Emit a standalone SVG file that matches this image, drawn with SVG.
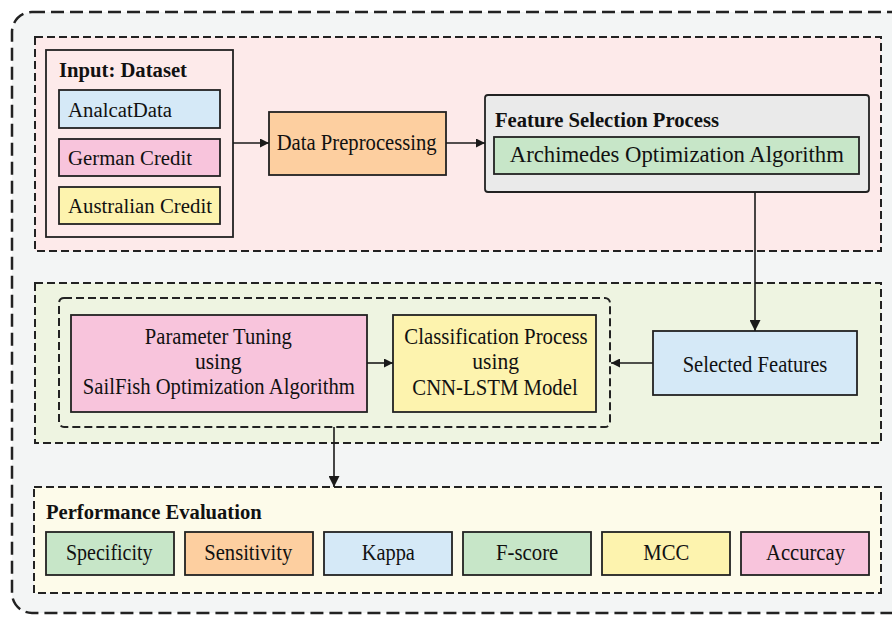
<svg xmlns="http://www.w3.org/2000/svg" width="892" height="617" viewBox="0 0 892 617">
<defs>
<marker id="arr" viewBox="0 0 10 10" refX="10" refY="5" markerWidth="9" markerHeight="9" markerUnits="userSpaceOnUse" orient="auto"><path d="M0,0 L10,5 L0,10 z" fill="#1a1a1a"/></marker>
<marker id="arrL" viewBox="0 0 10 10" refX="10" refY="5" markerWidth="11" markerHeight="11" markerUnits="userSpaceOnUse" orient="auto"><path d="M0,0 L10,5 L0,10 z" fill="#1a1a1a"/></marker>
</defs>
<style>
text{font-family:"Liberation Serif","Times New Roman",serif;fill:#111;}
.t{font-size:22.5px;}
.s{font-size:20.5px;}
.c{text-anchor:middle;}
.b{font-weight:bold;font-size:20.5px;}
.box{stroke:#222;stroke-width:1.8;}
.sec{stroke:#222;stroke-width:2;stroke-dasharray:8 4;}
.con{stroke:#1a1a1a;stroke-width:1.6;fill:none;}
</style>
<rect x="0" y="0" width="892" height="617" fill="#ffffff"/>
<rect x="12" y="12" width="900" height="601" rx="20" fill="#f3f5f5" stroke="#222" stroke-width="2.5" stroke-dasharray="13 6"/>
<g id="sec-top"><rect class="sec" x="35" y="37" width="846" height="214" fill="#fdeaea"/></g>
<g id="sec-mid"><rect class="sec" x="35" y="283" width="846" height="160" fill="#eef4e1"/></g>
<g id="sec-bot"><rect class="sec" x="34" y="487" width="847" height="106" fill="#fdfbea"/>
<text class="b" x="46" y="519" textLength="215.7" lengthAdjust="spacingAndGlyphs">Performance Evaluation</text></g>
<g id="input"><rect class="box" x="46" y="50" width="187" height="187" fill="#fdeaea"/>
<text class="b" x="59" y="77" style="font-size:20px" textLength="128" lengthAdjust="spacingAndGlyphs">Input: Dataset</text></g>
<g id="analcat"><rect class="box" x="59" y="90" width="161" height="38" fill="#d5e9f7"/><text class="s" x="68" y="117" textLength="104" lengthAdjust="spacingAndGlyphs">AnalcatData</text></g>
<g id="german"><rect class="box" x="59" y="139" width="161" height="37" fill="#f8c4dc"/><text class="s" x="68" y="165" textLength="124" lengthAdjust="spacingAndGlyphs">German Credit</text></g>
<g id="australian"><rect class="box" x="59" y="187" width="161" height="37" fill="#fdf3ae"/><text class="s" x="68" y="213" textLength="144" lengthAdjust="spacingAndGlyphs">Australian Credit</text></g>
<g id="preproc"><rect class="box" x="269" y="112" width="177" height="63" fill="#fdcfa0"/><text class="t c" x="356.7" y="150" style="font-size:23px" textLength="160" lengthAdjust="spacingAndGlyphs">Data Preprocessing</text></g>
<g id="feature"><rect class="box" x="485" y="95" width="384" height="97" rx="3" fill="#eaeaea"/>
<text class="b" x="495" y="127" style="font-size:21px" textLength="224" lengthAdjust="spacingAndGlyphs">Feature Selection Process</text></g>
<g id="aoa"><rect class="box" x="494" y="137" width="365" height="37" fill="#c7e6c8"/><text class="t c" x="676.8" y="162.3" style="font-size:23.5px" textLength="334" lengthAdjust="spacingAndGlyphs">Archimedes Optimization Algorithm</text></g>
<g id="model-group"><rect class="sec" x="59" y="298" width="551" height="129" rx="5" fill="none"/></g>
<g id="param"><rect class="box" x="71" y="315" width="296" height="97" fill="#f8c4dc"/>
<text class="t c" x="218.3" y="344" textLength="147" lengthAdjust="spacingAndGlyphs">Parameter Tuning</text>
<text class="t c" x="218.3" y="369" textLength="46.7" lengthAdjust="spacingAndGlyphs">using</text>
<text class="t c" x="218.8" y="394" textLength="272" lengthAdjust="spacingAndGlyphs">SailFish Optimization Algorithm</text></g>
<g id="classif"><rect class="box" x="393" y="315" width="203" height="97" fill="#fdf3ae"/>
<text class="t c" x="496" y="344" textLength="183.4" lengthAdjust="spacingAndGlyphs">Classification Process</text>
<text class="t c" x="495.7" y="369" textLength="46.7" lengthAdjust="spacingAndGlyphs">using</text>
<text class="t c" x="495" y="394.5" textLength="165.4" lengthAdjust="spacingAndGlyphs">CNN-LSTM Model</text></g>
<g id="selected"><rect class="box" x="653" y="331" width="204" height="64" fill="#d5e9f7"/><text class="t c" x="755" y="371.5" style="font-size:23px" textLength="144.7" lengthAdjust="spacingAndGlyphs">Selected Features</text></g>
<g id="m-spec"><rect class="box" x="46" y="532" width="128" height="43" fill="#c7e6c8"/><text class="t c" x="109.3" y="560" textLength="86.7" lengthAdjust="spacingAndGlyphs">Specificity</text></g>
<g id="m-sens"><rect class="box" x="185" y="532" width="128" height="43" fill="#fdcfa0"/><text class="t c" x="248.3" y="560" textLength="88" lengthAdjust="spacingAndGlyphs">Sensitivity</text></g>
<g id="m-kappa"><rect class="box" x="324" y="532" width="128" height="43" fill="#d5e9f7"/><text class="t c" x="388.3" y="560" textLength="53.3" lengthAdjust="spacingAndGlyphs">Kappa</text></g>
<g id="m-fscore"><rect class="box" x="463" y="532" width="128" height="43" fill="#c7e6c8"/><text class="t c" x="527.2" y="560" textLength="62.3" lengthAdjust="spacingAndGlyphs">F-score</text></g>
<g id="m-mcc"><rect class="box" x="602" y="532" width="128" height="43" fill="#fdf3ae"/><text class="t c" x="666.3" y="560" textLength="46" lengthAdjust="spacingAndGlyphs">MCC</text></g>
<g id="m-acc"><rect class="box" x="741" y="532" width="128" height="43" fill="#f8c4dc"/><text class="t c" x="805.5" y="560" textLength="79" lengthAdjust="spacingAndGlyphs">Accurcay</text></g>
<g id="connectors">
<line class="con" x1="233" y1="143" x2="269" y2="143" marker-end="url(#arr)"/>
<line class="con" x1="446" y1="143" x2="485" y2="143" marker-end="url(#arr)"/>
<line class="con" x1="755" y1="192" x2="755" y2="331" marker-end="url(#arrL)"/>
<line class="con" x1="653" y1="363" x2="611" y2="363" marker-end="url(#arr)"/>
<line class="con" x1="367" y1="363" x2="393" y2="363" marker-end="url(#arr)"/>
<line class="con" x1="334" y1="427" x2="334" y2="487" marker-end="url(#arrL)"/>
</g>
</svg>
